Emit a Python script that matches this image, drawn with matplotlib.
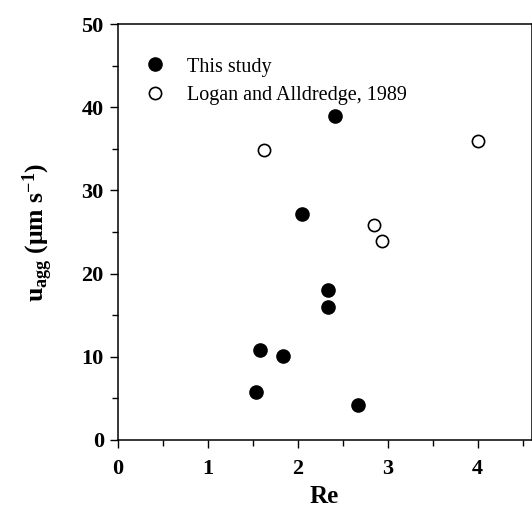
import matplotlib
matplotlib.use("Agg")
import matplotlib.pyplot as plt
from matplotlib.ticker import MultipleLocator

plt.rcParams['font.family'] = ['Liberation Serif', 'DejaVu Serif']
plt.rcParams['mathtext.fontset'] = 'custom'
plt.rcParams['mathtext.rm'] = 'Liberation Serif:bold'
plt.rcParams['mathtext.it'] = 'Liberation Serif:bold'
plt.rcParams['mathtext.bf'] = 'Liberation Serif:bold'

# Data
this_re = [2.42, 2.05, 2.34, 2.34, 1.58, 1.84, 1.54, 2.67]
this_u = [38.9, 27.1, 18.0, 16.0, 10.8, 10.1, 5.8, 4.2]
logan_re = [1.63, 2.85, 2.94, 4.01]
logan_u = [34.9, 25.8, 23.9, 35.9]
x_ticks = [0, 1, 2, 3, 4]
y_ticks = [0, 10, 20, 30, 40, 50]

fig = plt.figure(figsize=(5.32, 5.08), dpi=100)
ax = fig.add_axes([0.2212, 0.1344, 0.778, 0.818])

ax.plot(this_re, this_u, 'o', color='black', markersize=9.5, linestyle='none',
        label='This study')
ax.plot(logan_re, logan_u, 'o', markerfacecolor='white', markeredgecolor='black',
        markeredgewidth=1.2, markersize=8.8, linestyle='none',
        label='Logan and Alldredge, 1989')

ax.set_xlim(0, 4.6)
ax.set_ylim(0, 50)
ax.set_xticks(x_ticks)
ax.set_yticks(y_ticks)
ax.xaxis.set_minor_locator(MultipleLocator(0.5))
ax.yaxis.set_minor_locator(MultipleLocator(5))
ax.tick_params(which='both', direction='out', top=False, right=False, width=1)
ax.tick_params(which='major', length=6, labelsize=16)
ax.tick_params(axis='x', which='major', pad=8)
ax.tick_params(axis='y', which='major', pad=4)
ax.tick_params(which='minor', length=4)
for lab in ax.get_xticklabels() + ax.get_yticklabels():
    lab.set_fontweight('bold')
for s in ax.spines.values():
    s.set_linewidth(1.1)

ax.set_xlabel('Re', fontsize=18, fontweight='bold', labelpad=4)
ax.set_ylabel(r'u$_{agg}$ (μm s$^{-1}$)', fontsize=18.5, fontweight='bold', labelpad=19)

ax.legend(loc='upper left', bbox_to_anchor=(0.067, 0.92), frameon=False,
          borderpad=0, borderaxespad=0, handlelength=1.0, handletextpad=1.05,
          labelspacing=0.47, fontsize=14.5, numpoints=1)

fig.savefig('out.png', dpi=100)
